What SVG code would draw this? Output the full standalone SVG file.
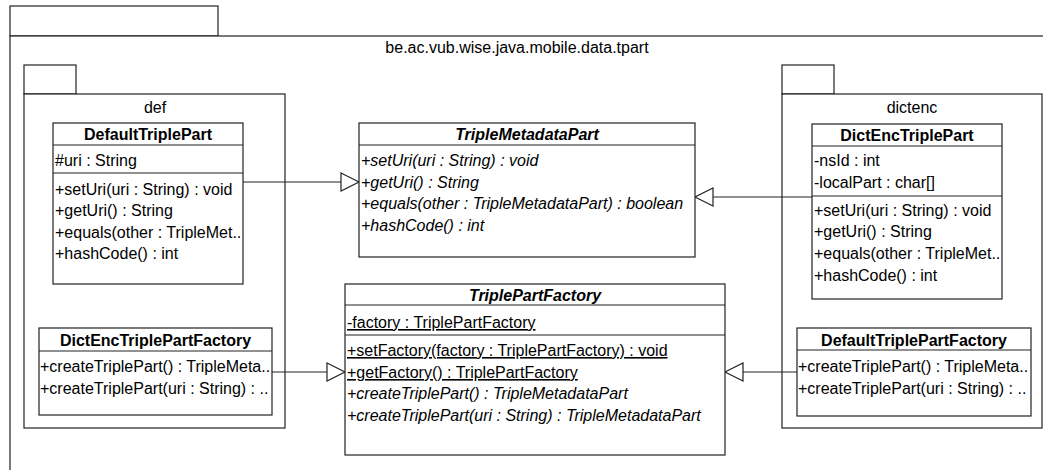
<svg xmlns="http://www.w3.org/2000/svg" width="1043" height="470" viewBox="0 0 1043 470">
<style>
  text { font-family: "Liberation Sans", Arial, sans-serif; font-size: 16px; fill: #000; }
  .pkg { fill: #fff; stroke: #222; stroke-width: 1.2; }
  .box { fill: #fff; stroke: #222; stroke-width: 1.2; }
  .sep { stroke: #222; stroke-width: 1.2; }
  .title { font-weight: bold; text-anchor: middle; }
  .abs { font-style: italic; }
  .ul { text-decoration: underline; }
  .mid { text-anchor: middle; }
  .conn { stroke: #222; stroke-width: 1.2; fill: none; marker-end: url(#gen); }
</style>
<defs>
  <marker id="gen" markerUnits="userSpaceOnUse" markerWidth="22" markerHeight="24" refX="19" refY="10" orient="auto">
    <path d="M1,1 L19,10 L1,19 Z" fill="#fff" stroke="#222" stroke-width="1.2"/>
  </marker>
</defs>
<rect width="1043" height="470" fill="#fff"/>

<g id="pkg-tpart">
  <rect class="pkg" x="10" y="6" width="208" height="30"/>
  <rect class="pkg" x="10" y="36" width="1060" height="460"/>
  <text class="mid" x="517" y="53">be.ac.vub.wise.java.mobile.data.tpart</text>
</g>

<g id="pkg-def">
  <rect class="pkg" x="24" y="65" width="52" height="29"/>
  <rect class="pkg" x="24" y="94" width="261" height="334"/>
  <text class="mid" x="155" y="113">def</text>
</g>

<g id="pkg-dictenc">
  <rect class="pkg" x="782" y="65" width="52" height="29"/>
  <rect class="pkg" x="782" y="94" width="260" height="334"/>
  <text class="mid" x="912" y="113">dictenc</text>
</g>

<g id="connectors">
  <line class="conn" x1="243" y1="182" x2="359" y2="182"/>
  <line class="conn" x1="812" y1="197" x2="695" y2="197"/>
  <line class="conn" x1="272" y1="372" x2="345" y2="372"/>
  <line class="conn" x1="797" y1="372" x2="725" y2="372"/>
</g>

<g id="DefaultTriplePart">
  <rect class="box" x="53" y="123" width="190" height="161"/>
  <line class="sep" x1="53" y1="145" x2="243" y2="145"/>
  <line class="sep" x1="53" y1="173" x2="243" y2="173"/>
  <text class="title" x="148" y="140">DefaultTriplePart</text>
  <text x="55" y="166">#uri : String</text>
  <text x="55" y="195">+setUri(uri : String) : void</text>
  <text x="55" y="216">+getUri() : String</text>
  <text x="55" y="238">+equals(other : TripleMet..</text>
  <text x="55" y="259">+hashCode() : int</text>
</g>

<g id="DictEncTriplePartFactory">
  <rect class="box" x="39" y="328" width="233" height="87"/>
  <line class="sep" x1="39" y1="351" x2="272" y2="351"/>
  <text class="title" x="155.5" y="346">DictEncTriplePartFactory</text>
  <text x="40" y="372">+createTriplePart() : TripleMeta..</text>
  <text x="40" y="394">+createTriplePart(uri : String) : ..</text>
</g>

<g id="TripleMetadataPart">
  <rect class="box" x="359" y="123" width="336" height="134"/>
  <line class="sep" x1="359" y1="145" x2="695" y2="145"/>
  <text class="title abs" x="527" y="140">TripleMetadataPart</text>
  <text class="abs" x="361" y="166">+setUri(uri : String) : void</text>
  <text class="abs" x="361" y="188">+getUri() : String</text>
  <text class="abs" x="361" y="209">+equals(other : TripleMetadataPart) : boolean</text>
  <text class="abs" x="361" y="231">+hashCode() : int</text>
</g>

<g id="TriplePartFactory">
  <rect class="box" x="345" y="284" width="380" height="171"/>
  <line class="sep" x1="345" y1="305" x2="725" y2="305"/>
  <line class="sep" x1="345" y1="335" x2="725" y2="335"/>
  <text class="title abs" x="535" y="301">TriplePartFactory</text>
  <text class="ul" x="347" y="328">-factory : TriplePartFactory</text>
  <text class="ul" x="347" y="356">+setFactory(factory : TriplePartFactory) : void</text>
  <text class="ul" x="347" y="378">+getFactory() : TriplePartFactory</text>
  <text class="abs" x="347" y="399">+createTriplePart() : TripleMetadataPart</text>
  <text class="abs" x="347" y="421">+createTriplePart(uri : String) : TripleMetadataPart</text>
</g>

<g id="DictEncTriplePart">
  <rect class="box" x="812" y="124" width="190" height="175"/>
  <line class="sep" x1="812" y1="146" x2="1002" y2="146"/>
  <line class="sep" x1="812" y1="196" x2="1002" y2="196"/>
  <text class="title" x="907" y="141">DictEncTriplePart</text>
  <text x="814" y="166">-nsId : int</text>
  <text x="814" y="188">-localPart : char[]</text>
  <text x="814" y="216">+setUri(uri : String) : void</text>
  <text x="814" y="237">+getUri() : String</text>
  <text x="814" y="259">+equals(other : TripleMet..</text>
  <text x="814" y="281">+hashCode() : int</text>
</g>

<g id="DefaultTriplePartFactory">
  <rect class="box" x="797" y="328" width="234" height="88"/>
  <line class="sep" x1="797" y1="350" x2="1031" y2="350"/>
  <text class="title" x="914" y="346">DefaultTriplePartFactory</text>
  <text x="798" y="372">+createTriplePart() : TripleMeta..</text>
  <text x="798" y="394">+createTriplePart(uri : String) : ..</text>
</g>
</svg>
